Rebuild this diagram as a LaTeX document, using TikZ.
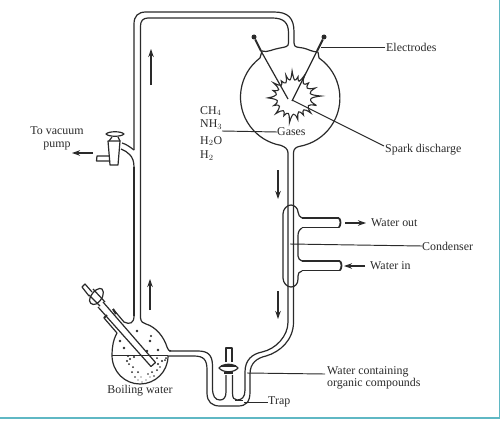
\documentclass[tikz,border=0pt]{standalone}
\usepackage{fontspec}
\setmainfont{Liberation Serif}
\usetikzlibrary{arrows.meta}
\definecolor{ink}{HTML}{2A2A2A}
\definecolor{edgeteal}{HTML}{5FB8C4}
\tikzset{
  wall/.style={draw=ink,line width=1.2pt,line join=round},
  thinlead/.style={draw=ink,line width=0.95pt},
  flowarrow/.style={draw=ink,line width=1.1pt,-{Stealth[length=8pt,width=5.5pt]}},
  lab/.style={font=\fontsize{11.9}{12.6}\selectfont,text=ink,inner sep=0pt,anchor=west},
  labc/.style={font=\fontsize{11.9}{12.6}\selectfont,text=ink,inner sep=0pt,align=center}
}
\begin{document}
\begin{tikzpicture}[x=1pt,y=-1pt]
\useasboundingbox (0,0) rectangle (502,420);
\fill[white] (0,0) rectangle (502,420);
\draw[edgeteal,line width=1.2pt] (499.5,0) -- (499.5,418) -- (0,418);
% ---------- main tube
\draw[wall] (134,150) -- (134,24) .. controls (134,16) and (138,12) .. (146,12) -- (274,12) .. controls (288,12) and (294,18) .. (294,32) -- (294,43) .. controls (294,48) and (298,47) .. (303,48) .. controls (308,49) and (312,52) .. (318,52);
\draw[wall] (140.5,318) -- (140.5,26) .. controls (140.5,21) and (143,18) .. (148,18) -- (272,18) .. controls (283,18) and (288.5,22) .. (288.5,33) -- (288.5,43) .. controls (288.5,47) and (285,47) .. (280,48) .. controls (273,49) and (267,53) .. (262,51);
\draw[wall] (134,167) -- (134,316);
% ---------- reaction flask
\draw[wall] (260,58) arc[start angle=233,end angle=100,radius=49] .. controls (285,147) and (288,149) .. (288,153) -- (288,205);
\draw[wall] (319,58) arc[start angle=305,end angle=440,radius=49] .. controls (296,147) and (293.5,149) .. (293.5,153) -- (293.5,205);
\draw[wall] (260,58) -- (262,51);
\draw[wall] (319,58) -- (318,52);
% ---------- electrodes
\node[circle,fill=ink,inner sep=0pt,minimum size=5pt] (dotL) at (254,37) {};
\node[circle,fill=ink,inner sep=0pt,minimum size=5pt] (dotR) at (324,37) {};
\coordinate (tipL) at (288,99);
\coordinate (tipR) at (292,101);
\draw[wall,line width=2pt] (dotL) -- (261,51);
\draw[wall,line width=2pt] (dotR) -- (317,51);
\draw[wall] (261,51) -- (tipL);
\draw[wall] (317,51) -- (tipR);
% ---------- spark
\begin{scope}[shift={(293,97)}]
\draw[wall,line width=1.1pt,line join=miter]
 (20:25) .. controls (25:16) and (32:15) .. (42:24)
 .. controls (46:15) and (54:15) .. (60:21)
 .. controls (66:14) and (72:14) .. (78:23)
 .. controls (84:15) and (92:15) .. (98:26)
 .. controls (103:15) and (110:15) .. (116:21)
 .. controls (122:15) and (128:15) .. (136:24)
 .. controls (142:15) and (150:14) .. (156:21)
 .. controls (162:14) and (170:14) .. (178:25)
 .. controls (184:15) and (192:15) .. (198:21)
 .. controls (204:14) and (210:14) .. (216:24)
 .. controls (222:15) and (228:15) .. (234:20)
 .. controls (240:14) and (246:14) .. (252:23)
 .. controls (256:15) and (262:15) .. (268:26)
 .. controls (274:15) and (278:15) .. (284:21)
 .. controls (289:15) and (293:15) .. (298:25)
 .. controls (304:15) and (312:15) .. (318:21)
 .. controls (324:15) and (332:15) .. (338:24)
 .. controls (344:15) and (352:15) .. (358:28)
 .. controls (2:15) and (12:15) .. (20:25);
\end{scope}
% ---------- condenser
\draw[wall] (298,212) .. controls (298,208) and (294,205) .. (291,205) .. controls (287,205) and (283,209) .. (283,214) -- (283,278) .. controls (283,283) and (287,287) .. (291,287) .. controls (295,287) and (298,284) .. (298,279) -- (298,276) .. controls (298,273) and (299,272) .. (302,271);
\draw[wall] (298,212) .. controls (298,215) and (300,217) .. (302,218);
\draw[wall] (302,228) .. controls (299,230) and (298,232) .. (298,236) -- (298,256) .. controls (298,259) and (300,260) .. (302,261);
\draw[wall] (302,218) -- (339,218);
\draw[wall] (302,227.5) -- (339,227.5);
\draw[wall,line width=1.8pt] (339,218) .. controls (341,221) and (341,224) .. (339,227.5);
\draw[wall] (302,261) -- (340,261);
\draw[wall] (302,270.5) -- (340,270.5);
\draw[wall,line width=1.8pt] (340,261) .. controls (342,264) and (342,267) .. (340,270.5);
\draw[wall] (288,205) -- (288,322) .. controls (288,336) and (276,349) .. (262,352) .. controls (252,354) and (245,360) .. (245,372) -- (245,390);
\draw[wall] (293.5,205) -- (293.5,322) .. controls (293.5,340) and (280,352) .. (266,356) .. controls (257,358) and (250,363) .. (250,374) -- (250,392) .. controls (250,402) and (246,406) .. (238,406) -- (220,406) .. controls (212,406) and (207,402) .. (207,393) -- (207,370) .. controls (207,360) and (204,356) .. (194,356) -- (168,356);
% ---------- trap
\draw[wall] (245,390) .. controls (245,397) and (242,400) .. (237,400) .. controls (234,400) and (232.5,398) .. (232.5,393) -- (232.5,375);
\draw[wall] (212.5,388) .. controls (212.5,396) and (215,400) .. (220,400) .. controls (224,400) and (226,397) .. (226,392) -- (226,375);
\draw[wall] (212.5,388) -- (212.5,366) .. controls (212.5,355) and (208,351) .. (198,351) -- (169,351);
\draw[wall] (235,400.5) -- (243,400.5);
% trap stopcock
\draw[wall,fill=white] (219,368) .. controls (223,363) and (234,363) .. (238,368) .. controls (234,373) and (223,373) .. (219,368) -- cycle;
\draw[wall] (221,366) -- (236,366);
\draw[wall] (224,373) -- (233,373);
\draw[wall] (226,362) -- (226,348) -- (232,348) -- (232,362);
% ---------- boiling flask
\draw[wall] (134,316) .. controls (134,323) and (130,325) .. (124,322) -- (113,309);
\draw[wall] (117,333) .. controls (113,340) and (112,348) .. (112,355) .. controls (112,372) and (125,384) .. (140,384) .. controls (155,384) and (168,372) .. (168,356);
\draw[wall] (140.5,318) .. controls (141,322) and (143,323) .. (146,324) .. controls (156,327) and (164,337) .. (167,347) .. controls (168,350) and (169,351) .. (171,351);
\draw[wall,line width=1pt] (112,355) -- (168,355);
\draw[wall] (104,318) -- (117,333);
% dip tube
\draw[wall] (98,307) -- (151,366.5) -- (155.5,362.5) -- (103,302);
\draw[wall,line width=2pt] (104,318) -- (107,315);
\draw[wall,line width=2pt] (113,309) -- (116,314);
% dip tube stopcock and stem
\draw[wall,fill=white] (90,298) .. controls (93,290) and (100,287) .. (102,289) .. controls (105,292) and (103,300) .. (96,304) .. controls (92,306) and (88,302) .. (90,298) -- cycle;
\draw[wall] (93,289) -- (105,302);
\draw[wall] (89,295) -- (100,306);
\draw[wall] (92,292) -- (85,284) -- (82,287) -- (89,296);
% bubbles
\foreach \bx/\by/\br in {137/331/1.4,150/341/1.4,151/336/1.1,120/341/1.3,124/348/1.3,147/351/1.3,158/350/1.3,
 128/356/1.2,127/361/1.1,130/359/1.1,134/357/1.1,129/364/1,133/367/1,138/372/1,132/372/1,135/377/.8,138/380/.7,142/382/.7,141/377/.7,150/377/.7,
 157/370/1,152/372/1,162/361/1.2,166/358/1,158/364/1.1,154/376/.8,160/367/.9,146/380/.7,148/374/.8,165/360/1,157/358/1}
  \fill[ink] (\bx,\by) circle[radius=\br];
% ---------- pump stopcock
\draw[wall] (134,150) .. controls (130,147) and (126,144) .. (122,143);
\draw[wall] (134,167) .. controls (134,156) and (128,152) .. (121,149);
\draw[wall] (108,141) -- (120,141) -- (118,165) -- (110,165) -- cycle;
\draw[wall,fill=white] (106,134) .. controls (109,131) and (121,131) .. (124,134) .. controls (121,137) and (109,137) .. (106,134) -- cycle;
\draw[wall] (112,137) -- (109,141);
\draw[wall] (118,137) -- (120,141);
\draw[wall] (109,156) -- (97,156) -- (96.5,161) -- (110,161);
% ---------- flow arrows
\coordinate (a1s) at (151,85); \coordinate (a1e) at (151,49);
\coordinate (a2s) at (150,310); \coordinate (a2e) at (150,279);
\coordinate (a3s) at (278,170); \coordinate (a3e) at (278,199);
\coordinate (a4s) at (278,291); \coordinate (a4e) at (278,319);
\draw[flowarrow] (a1s) -- (a1e);
\draw[flowarrow] (a2s) -- (a2e);
\draw[flowarrow] (a3s) -- (a3e);
\draw[flowarrow] (a4s) -- (a4e);
\coordinate (p1) at (93,153); \coordinate (p2) at (72,153);
\draw[flowarrow] (p1) -- (p2);
\coordinate (wo1) at (345,223); \coordinate (wo2) at (366,223);
\draw[flowarrow] (wo1) -- (wo2);
\coordinate (wi1) at (365,266); \coordinate (wi2) at (344,266);
\draw[flowarrow] (wi1) -- (wi2);
% ---------- labels
\node[labc] (vac) at (57,138.5) {To vacuum\\pump};
\node[lab] (ch4) at (200,111) {CH$_4$};
\node[lab] (nh3) at (200,125) {NH$_3$};
\node[lab] (h2o) at (200,141) {H$_2$O};
\node[lab] (h2) at (200,156) {H$_2$};
\node[lab] (gases) at (277,132) {Gases};
\node[lab] (elec) at (386,47) {Electrodes};
\node[lab] (spark) at (385,150) {Spark discharge};
\node[lab] (wout) at (371,223) {Water out};
\node[lab] (cond) at (422,246) {Condenser};
\node[lab] (win) at (370,266) {Water in};
\node[lab,align=left] (wcont) at (327,378) {Water containing\\organic compounds};
\node[lab] (trap) at (268,402) {Trap};
\node[labc] (boil) at (140,391) {Boiling water};
% ---------- leader lines
\coordinate (nhend) at (222,131);
\draw[thinlead] (gases.west) -- (nhend);
\coordinate (le) at (321,47);
\draw[thinlead] (elec.west) ++(-1,0) -- (le);
\coordinate (ls) at (292,100);
\draw[thinlead] (ls) -- (384,146);
\coordinate (lc) at (290,244);
\draw[thinlead] (lc) -- (cond.west);
\coordinate (lw) at (247,373);
\draw[thinlead] (lw) -- (325,374);
\coordinate (lt) at (244,402);
\draw[thinlead] (lt) -- (trap.west);
\end{tikzpicture}
\end{document}
